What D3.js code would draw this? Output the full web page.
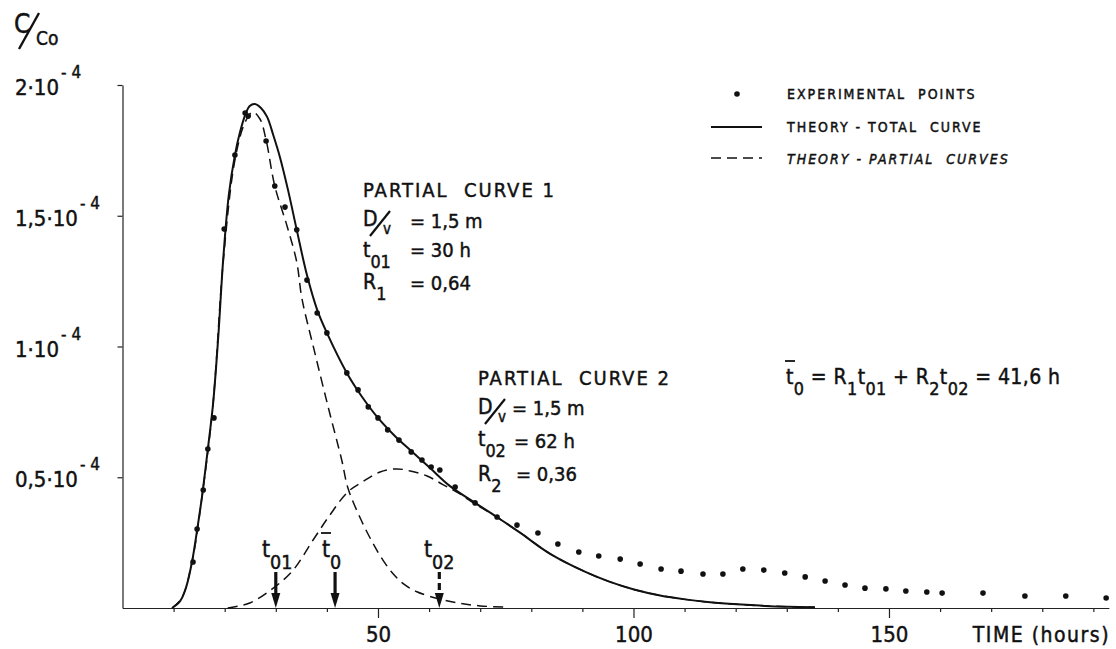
<!DOCTYPE html>
<html>
<head>
<meta charset="utf-8">
<script src="https://cdn.jsdelivr.net/npm/d3@7"></script>
<style>
  body { margin: 0; background: #fff; }
  text { font-family: "DejaVu Sans Condensed", "DejaVu Sans", sans-serif; font-stretch: condensed; fill: #111;
         stroke: #111; stroke-width: 0.45px; }
</style>
</head>
<body>
<div id="chart"></div>
<script>
/* DATA (concentration in units of 1e-4, time in hours) */
const pointTime = [13.8, 14.6, 15.8, 16.7, 17.9, 19.9, 22.0, 24.0, 24.6, 28.1, 29.8, 31.8, 34.1, 36.1, 38.1, 40.0,
  43.9, 46.1, 48.1, 50.0, 51.9, 54.1, 56.5, 58.6, 60.4, 62.1, 65.1, 69.0, 73.3, 77.2, 81.3, 85.2, 89.3, 93.2,
  97.4, 101.3, 105.4, 109.3, 113.6, 117.5, 121.4, 125.5, 129.6, 133.6, 137.5, 141.4, 145.3, 149.4, 153.3, 157.4,
  160.4, 168.4, 176.6, 184.6, 192.5];
const pointConc = [0.176, 0.302, 0.451, 0.608, 0.727, 1.449, 1.732, 1.893, 1.881, 1.786, 1.614, 1.533, 1.446, 1.254, 1.128, 1.052,
  0.899, 0.834, 0.769, 0.727, 0.681, 0.642, 0.597, 0.566, 0.539, 0.528, 0.463, 0.402, 0.348, 0.317, 0.287, 0.245, 0.214, 0.199,
  0.187, 0.168, 0.149, 0.141, 0.130, 0.130, 0.149, 0.145, 0.134, 0.119, 0.103, 0.088, 0.076, 0.073, 0.065, 0.061,
  0.057, 0.057, 0.046, 0.046, 0.038];

// theory - total curve
const totalTime = [9.7, 11.3, 12.4, 13.6, 14.6, 15.6, 16.7, 17.7, 18.7, 19.7, 20.8, 22.0, 23.0, 24.0, 24.9, 25.9, 27.1,
  28.3, 29.5, 30.8, 32.4, 34.1, 36.1, 38.1, 40.0, 43.9, 46.9, 50.0, 53.3, 56.3, 60.2, 64.1, 69.0, 73.1, 77.8, 83.7,
  90.7, 95.4, 100.1, 105.2, 110.1, 115.0, 120.3, 125.7, 130.2, 135.5];
const totalConc = [0, 0.027, 0.076, 0.176, 0.298, 0.432, 0.608, 0.776, 1.025, 1.331, 1.579, 1.732, 1.820, 1.885, 1.920, 1.927, 1.912,
  1.878, 1.809, 1.725, 1.598, 1.446, 1.273, 1.140, 1.052, 0.899, 0.807, 0.727, 0.658, 0.604, 0.535, 0.466, 0.402, 0.350, 0.288, 0.207,
  0.137, 0.100, 0.071, 0.048, 0.033, 0.022, 0.014, 0.008, 0.005, 0.003];

// theory - partial curve 1
const partial1Time = [9.7, 11.6, 13.6, 15.6, 17.7, 19.7, 22.0, 24.0, 25.5, 26.9, 28.1, 29.8, 32.2, 34.1, 35.1, 37.5,
  40.4, 42.9, 44.1, 46.5, 49.0, 51.0, 53.0, 55.0, 57.6, 62.1, 66.0, 70.0, 75.2];
const partial1Conc = [0, 0.038, 0.176, 0.432, 0.776, 1.323, 1.713, 1.858, 1.897, 1.870, 1.790, 1.614, 1.461, 1.323, 1.185, 0.987,
  0.757, 0.566, 0.460, 0.345, 0.248, 0.182, 0.130, 0.092, 0.062, 0.034, 0.018, 0.008, 0.003];

// theory - partial curve 2
const partial2Time = [20.6, 24.9, 29.5, 33.4, 37.3, 40.6, 44.1, 47.1, 50.4, 53.7, 56.3, 59.6, 62.7, 65.7, 69.0, 73.1,
  77.8, 83.7, 90.7, 95.4, 100.1, 105.2, 110.1, 115.0, 120.3, 125.7, 130.2, 135.5];
const partial2Conc = [0, 0.019, 0.076, 0.145, 0.260, 0.356, 0.444, 0.484, 0.520, 0.532, 0.524, 0.505, 0.472, 0.440, 0.398, 0.350,
  0.288, 0.207, 0.137, 0.100, 0.071, 0.048, 0.033, 0.022, 0.014, 0.008, 0.005, 0.003];

const xMajorTicks = [50, 100, 150];
const xMinorTicks = [10, 20, 30, 40, 60, 70, 80, 90, 110, 120, 130, 140, 160, 170, 180, 190];
const yTicks = [0.5, 1, 1.5, 2];
const yTickLabels = ["0,5·10", "1·10", "1,5·10", "2·10"];
const arrowTimes = [30, 41.6, 62];

/* SETUP */
const width = 1116, height = 649;
const svg = d3.select("#chart").append("svg")
  .attr("width", width).attr("height", height);

const x = d3.scaleLinear().domain([0, 193]).range([122.5, 1108.7]);
const y = d3.scaleLinear().domain([0, 2]).range([608, 85]);

// axes
const xMinor = d3.axisBottom(x).tickValues(xMinorTicks).tickSize(4).tickSizeOuter(0).tickFormat("");
const xMajor = d3.axisBottom(x).tickValues(xMajorTicks).tickSize(10).tickSizeOuter(0).tickPadding(8);
const yAxis = d3.axisLeft(y).tickValues(yTicks).tickSize(5).tickSizeOuter(0).tickFormat("");

svg.append("g").attr("transform", `translate(0,${y(0)})`).call(xMinor);
const gx = svg.append("g").attr("transform", `translate(0,${y(0)})`).call(xMajor);
gx.selectAll("text").style("font-size", "22px").style("fill", "#111")
  .style("font-family", '"DejaVu Sans Condensed","DejaVu Sans",sans-serif');
svg.append("g").attr("transform", `translate(${x(0)},0)`).call(yAxis);
svg.selectAll(".domain, .tick line").attr("stroke", "#222").attr("stroke-width", 1.2);

// y tick labels like 1,5·10^-4
yTicks.forEach((v, i) => {
  const t = svg.append("text").attr("x", 15).attr("y", y(v) + 10).style("font-size", "22px");
  t.append("tspan").text(yTickLabels[i]);
  t.append("tspan").attr("dy", -17).attr("dx", 2).style("font-size", "17px").text("- 4");
});

// axis titles
svg.append("text").attr("x", 14).attr("y", 33).style("font-size", "26px").text("C");
svg.append("line").attr("x1", 19).attr("y1", 49).attr("x2", 39).attr("y2", 13)
  .attr("stroke", "#111").attr("stroke-width", 2.4);
svg.append("text").attr("x", 36).attr("y", 45).style("font-size", "19px").text("Co");

svg.append("text").attr("x", 1110).attr("y", 642).attr("text-anchor", "end").style("font-size", "21px")
  .style("letter-spacing", "1.5px").text("TIME (hours)");

/* CURVES */
const line = d3.line().x(d => x(d[0])).y(d => y(d[1])).curve(d3.curveCatmullRom.alpha(0.5));

svg.append("path").datum(d3.zip(partial1Time, partial1Conc)).attr("d", line)
  .attr("fill", "none").attr("stroke", "#111").attr("stroke-width", 1.5).attr("stroke-dasharray", "10,6");
svg.append("path").datum(d3.zip(partial2Time, partial2Conc)).attr("d", line)
  .attr("fill", "none").attr("stroke", "#111").attr("stroke-width", 1.5).attr("stroke-dasharray", "10,6");
svg.append("path").datum(d3.zip(totalTime, totalConc)).attr("d", line)
  .attr("fill", "none").attr("stroke", "#111").attr("stroke-width", 2);

svg.selectAll(".pt").data(d3.zip(pointTime, pointConc)).join("circle")
  .attr("class", "pt").attr("cx", d => x(d[0])).attr("cy", d => y(d[1])).attr("r", 2.8).attr("fill", "#111");

/* ARROWS at t01, t0 bar, t02 */
arrowTimes.forEach((t, i) => {
  const ax = x(t);
  svg.append("line").attr("x1", ax).attr("x2", ax).attr("y1", y(0) - 36).attr("y2", y(0) - 10)
    .attr("stroke", "#111").attr("stroke-width", 3.2).attr("stroke-dasharray", i === 2 ? "7,4" : null);
  svg.append("path").attr("d", `M${ax - 4.5},${y(0) - 15} L${ax + 4.5},${y(0) - 15} L${ax},${y(0)} Z`).attr("fill", "#111");
});

// small helper for text with subscripts
function rich(x0, y0, parts, size, spacing) {
  const t = svg.append("text").attr("x", x0).attr("y", y0).style("font-size", size + "px")
    .style("letter-spacing", (spacing || 0) + "px").attr("xml:space", "preserve");
  let off = 0;
  parts.forEach(p => {
    const target = p.sub ? size * 0.5 : 0;
    t.append("tspan").attr("dy", target - off).attr("dx", p.dx || 0)
      .style("font-size", (p.sub ? size * 0.85 : size) + "px").text(p.t);
    off = target;
  });
  return t;
}

// arrow labels
rich(262, 557, [{ t: "t" }, { t: "01", sub: true }], 23);
rich(322, 557, [{ t: "t" }, { t: "0", sub: true }], 23);
svg.append("line").attr("x1", 321).attr("x2", 331).attr("y1", 533).attr("y2", 533).attr("stroke", "#111").attr("stroke-width", 1.8);
rich(424, 557, [{ t: "t" }, { t: "02", sub: true }], 23);

/* ANNOTATIONS */
function dOverV(x0, y0) {
  svg.append("text").attr("x", x0).attr("y", y0).style("font-size", "21px").text("D");
  svg.append("line").attr("x1", x0 + 7).attr("y1", y0 + 10).attr("x2", x0 + 27).attr("y2", y0 - 15)
    .attr("stroke", "#111").attr("stroke-width", 2.2);
  svg.append("text").attr("x", x0 + 20).attr("y", y0 + 8).style("font-size", "15px").text("v");
}

svg.append("text").attr("x", 363).attr("y", 197).style("font-size", "20px").style("letter-spacing", "2px")
  .attr("xml:space", "preserve").text("PARTIAL  CURVE 1");
dOverV(363, 226);
svg.append("text").attr("x", 410).attr("y", 228).style("font-size", "20px").attr("xml:space", "preserve").text("= 1,5 m");
rich(363, 257, [{ t: "t" }, { t: "01", sub: true }], 21);
svg.append("text").attr("x", 410).attr("y", 257).style("font-size", "20px").text("= 30 h");
rich(363, 289, [{ t: "R" }, { t: "1", sub: true }], 21);
svg.append("text").attr("x", 410).attr("y", 290).style("font-size", "20px").text("= 0,64");

svg.append("text").attr("x", 478).attr("y", 385).style("font-size", "20px").style("letter-spacing", "2px")
  .attr("xml:space", "preserve").text("PARTIAL  CURVE 2");
dOverV(478, 414);
svg.append("text").attr("x", 512).attr("y", 415).style("font-size", "20px").text("= 1,5 m");
rich(478, 446, [{ t: "t" }, { t: "02", sub: true }], 21);
svg.append("text").attr("x", 514).attr("y", 448).style("font-size", "20px").text("= 62 h");
rich(478, 481, [{ t: "R" }, { t: "2", sub: true }], 21);
svg.append("text").attr("x", 516).attr("y", 481).style("font-size", "20px").text("= 0,36");

rich(786, 384, [{ t: "t" }, { t: "0", sub: true }, { t: " = R" }, { t: "1", sub: true }, { t: "t" }, { t: "01", sub: true },
  { t: " + R" }, { t: "2", sub: true }, { t: "t" }, { t: "02", sub: true }, { t: " = 41,6 h" }], 21, 0.4);
svg.append("line").attr("x1", 785).attr("x2", 795).attr("y1", 361).attr("y2", 361).attr("stroke", "#111").attr("stroke-width", 1.8);

/* LEGEND */
svg.append("circle").attr("cx", 737).attr("cy", 94).attr("r", 2.8).attr("fill", "#111");
svg.append("line").attr("x1", 711).attr("x2", 762).attr("y1", 127).attr("y2", 127).attr("stroke", "#111").attr("stroke-width", 2);
svg.append("line").attr("x1", 711).attr("x2", 762).attr("y1", 158).attr("y2", 158).attr("stroke", "#111")
  .attr("stroke-width", 1.5).attr("stroke-dasharray", "10,6");
const legendText = ["EXPERIMENTAL  POINTS", "THEORY - TOTAL  CURVE", "THEORY - PARTIAL  CURVES"];
[99, 132, 164].forEach((yy, i) => {
  svg.append("text").attr("x", 787).attr("y", yy).style("font-size", "14px").style("letter-spacing", "2px")
    .style("font-style", i === 2 ? "italic" : null).attr("xml:space", "preserve").text(legendText[i]);
});
</script>
</body>
</html>
